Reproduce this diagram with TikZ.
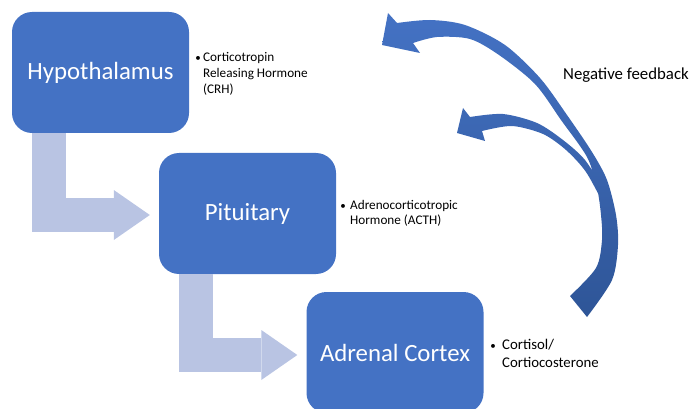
\documentclass[tikz,border=0pt]{standalone}
\usepackage{fontspec}
\setmainfont{Carlito}
\usetikzlibrary{arrows.meta}
\definecolor{boxblue}{HTML}{4472C4}
\definecolor{stepblue}{HTML}{B9C4E3}
\definecolor{fbdark}{HTML}{2E5597}

\begin{document}
\begin{tikzpicture}[x=1pt,y=-1pt,
    organ/.style={fill=boxblue, rounded corners=20pt, minimum width=177pt, minimum height=121pt, text=white, font=\fontsize{24.8}{30}\selectfont},
    note/.style={anchor=base west, inner sep=0pt, font=\fontsize{13.2}{15.8}\selectfont},
    dotmark/.style={anchor=base, inner sep=0pt, font=\fontsize{11}{13}\selectfont},
    flow/.style={draw=stepblue, line width=34pt, -{Triangle[width=50pt,length=36pt,line width=0pt]}, shorten >=9pt}]
    \path[use as bounding box, clip] (0,0) rectangle (696,409);

        \node[organ] (hyp) at (100.5,72.5) {Hypothalamus};
        \node[organ] (pit) at (247.5,213.5) {Pituitary};
        \node[organ] (adr) at (395,352.5) {Adrenal Cortex};

        \node[dotmark] (b1) at (198,62) {•};
        \node[note] (crh) at (203,62) {\begin{tabular}[t]{@{}l@{}}Corticotropin\\Releasing Hormone\\(CRH)\end{tabular}};
        \node[dotmark] (b2) at (343,209) {•};
        \node[note] (acth) at (350,209) {\begin{tabular}[t]{@{}l@{}}Adrenocorticotropic\\Hormone (ACTH)\end{tabular}};
        \node[dotmark] (b3) at (493,349) {•};
        \node[note, font=\fontsize{14.8}{18}\selectfont] (cort) at (502,349) {\begin{tabular}[t]{@{}l@{}}Cortisol/\\Cortiocosterone\end{tabular}};
        \node[note, font=\fontsize{16.8}{20}\selectfont] (neg) at (563,80) {Negative feedback};

            \draw[flow] ([xshift=37.5pt]hyp.south west) |- ([yshift=-1.5pt]pit.west);
            \draw[flow] ([xshift=37.5pt]pit.south west) |- ([yshift=-2.5pt]adr.west);

            \path[top color=boxblue, bottom color=fbdark]
                (382,45) -- (420,53)
                -- plot[smooth] coordinates {(413,43) (437,37) (470,39) (499,55) (535,84) (561,120) (587,157) (597,188) (601,215) (602,240) (596,268) (570,296)}
                -- plot[smooth] coordinates {(587,317) (612,280) (618,245) (616,215) (607,180) (592,152) (567,115) (540,78) (505,45) (465,25) (430,20) (397,23)}
                -- (388,13) -- cycle
                (457,133) -- (485,141)
                -- plot[smooth] coordinates {(482,131) (512,126) (543,134) (566,150) (586,172) (604,205)}
                -- plot[smooth] coordinates {(604,190) (585,160) (563,140) (537,123) (503,114) (470,117)}
                -- (463,108) -- cycle;

    \end{tikzpicture}
\end{document}
